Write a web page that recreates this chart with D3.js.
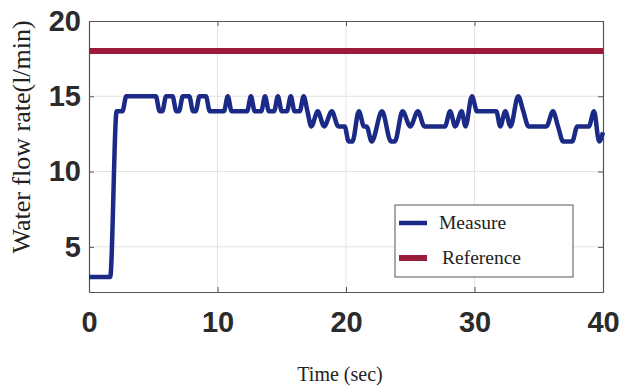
<!DOCTYPE html>
<html>
<head>
<meta charset="utf-8">
<script src="https://cdn.jsdelivr.net/npm/d3@7"></script>
<style>
  body { margin: 0; background: #fff; }
  svg { display: block; }
</style>
</head>
<body>
<svg id="chart"></svg>
<script>
const measureTime = [0, 1.65, 2.15, 2.6, 2.9, 5.2, 5.5, 5.7, 6.0, 6.5, 6.8, 7.0, 7.3, 7.8, 8.1, 8.3, 8.6, 9.1, 9.4, 9.7,
  10.5, 10.8, 11.1, 12.3, 12.6, 12.9, 13.4, 13.7, 14.0, 14.4, 14.7, 15.0, 15.4, 15.7, 16.0, 16.4, 16.7, 17.0, 17.3,
  17.8, 18.3, 18.9, 19.4, 19.9, 20.2, 20.5, 21.0, 21.4, 21.6, 22.0, 22.8, 23.5, 23.8, 24.4, 25.0, 25.6, 26.1,
  27.7, 28.1, 28.5, 29.0, 29.3, 29.8, 30.2, 31.7, 32.0, 32.4, 32.8, 33.4, 33.8, 34.2, 35.6, 36.1, 36.5,
  36.9, 37.6, 38.0, 38.9, 39.3, 39.7, 40];
const measureValue = [3, 3, 14, 14, 15, 15, 14, 14, 15, 15, 14, 14, 15, 15, 14, 14, 15, 15, 14, 14,
  14, 15, 14, 14, 15, 14, 14, 15, 14, 14, 15, 14, 14, 15, 14, 14, 15, 14, 13,
  14, 13, 14, 13, 13, 12, 12, 14, 13, 13, 12, 14, 12, 12, 14, 13, 14, 13,
  13, 14, 13, 14, 13, 15, 14, 14, 13, 14, 13, 15, 14, 13, 13, 14, 13,
  12, 12, 13, 13, 14, 12, 12.6];

const referenceTime = [0, 40];
const referenceValue = [18, 18];

const xTicks = [0, 10, 20, 30, 40];
const yTicks = [5, 10, 15, 20];
const legendLabels = ["Measure", "Reference"];

const width = 619, height = 389;
const margin = {left: 89, right: 16, top: 21, bottom: 97};
const blue = "#1b2a86", red = "#9b1b3b";

const svg = d3.select("#chart")
  .attr("width", width)
  .attr("height", height);

const x = d3.scaleLinear().domain([0, 40]).range([margin.left, width - margin.right]);
const y = d3.scaleLinear().domain([2, 20]).range([height - margin.bottom, margin.top]);

// grid
svg.append("g")
  .selectAll("line")
  .data(xTicks.slice(1, -1))
  .join("line")
    .attr("x1", d => x(d)).attr("x2", d => x(d))
    .attr("y1", y(2)).attr("y2", y(20))
    .attr("stroke", "#e3e3e3").attr("stroke-width", 1);
svg.append("g")
  .selectAll("line")
  .data(yTicks.slice(0, -1))
  .join("line")
    .attr("x1", x(0)).attr("x2", x(40))
    .attr("y1", d => y(d)).attr("y2", d => y(d))
    .attr("stroke", "#e3e3e3").attr("stroke-width", 1);

// axes (box style, ticks inside)
const tickStyle = g => {
  g.select(".domain").attr("stroke", "#555").attr("stroke-width", 1.2);
  g.selectAll(".tick line").attr("stroke", "#555");
  g.selectAll(".tick text")
    .attr("fill", "#2b2b2b")
    .attr("font-family", "Liberation Sans, Arial, sans-serif")
    .attr("font-weight", "bold")
    .attr("font-size", 29);
};

svg.append("g")
  .attr("transform", `translate(0,${y(2)})`)
  .call(d3.axisBottom(x).tickValues(xTicks).tickSize(-5).tickPadding(19).tickSizeOuter(0))
  .call(tickStyle);
svg.append("g")
  .attr("transform", `translate(0,${y(20)})`)
  .call(d3.axisTop(x).tickValues(xTicks).tickSize(-5).tickFormat("").tickSizeOuter(0))
  .call(tickStyle);
svg.append("g")
  .attr("transform", `translate(${x(0)},0)`)
  .call(d3.axisLeft(y).tickValues(yTicks).tickSize(-5).tickPadding(8).tickSizeOuter(0))
  .call(tickStyle);
svg.append("g")
  .attr("transform", `translate(${x(40)},0)`)
  .call(d3.axisRight(y).tickValues(yTicks).tickSize(-5).tickFormat("").tickSizeOuter(0))
  .call(tickStyle);

// lines
const line = d3.line()
  .x(d => x(d[0]))
  .y(d => y(d[1]))
  .curve(d3.curveMonotoneX);

svg.append("path")
  .datum(referenceTime.map((t, i) => [t, referenceValue[i]]))
  .attr("d", line)
  .attr("fill", "none")
  .attr("stroke", red)
  .attr("stroke-width", 6);

svg.append("path")
  .datum(measureTime.map((t, i) => [t, measureValue[i]]))
  .attr("d", line)
  .attr("fill", "none")
  .attr("stroke", blue)
  .attr("stroke-width", 4.5)
  .attr("stroke-linejoin", "round");

// axis titles
svg.append("text")
  .attr("x", 340).attr("y", 381)
  .attr("text-anchor", "middle")
  .attr("font-family", "Liberation Serif, Times New Roman, serif")
  .attr("font-size", 20)
  .attr("fill", "#222")
  .text("Time (sec)");

svg.append("text")
  .attr("transform", `translate(30,${y(12.3)}) rotate(-90)`)
  .attr("text-anchor", "middle")
  .attr("font-family", "Liberation Serif, Times New Roman, serif")
  .attr("font-size", 26)
  .attr("fill", "#222")
  .text("Water flow rate(l/min)");

// legend
const legend = svg.append("g").attr("transform", "translate(395,205)");
legend.append("rect")
  .attr("width", 178).attr("height", 72)
  .attr("fill", "#fff").attr("stroke", "#555").attr("stroke-width", 1);

legend.selectAll("g")
  .data(legendLabels)
  .join("g")
    .attr("transform", (d, i) => `translate(0,${18 + i * 35})`)
    .each(function(d, i) {
      const g = d3.select(this);
      g.append("line")
        .attr("x1", 4).attr("x2", 32)
        .attr("stroke", i === 0 ? blue : red)
        .attr("stroke-width", i === 0 ? 4.5 : 6);
      g.append("text")
        .attr("x", i === 0 ? 44 : 47).attr("y", 6)
        .attr("font-family", "Liberation Serif, Times New Roman, serif")
        .attr("font-size", 19.5)
        .attr("fill", "#222")
        .text(d);
    });
</script>
</body>
</html>
